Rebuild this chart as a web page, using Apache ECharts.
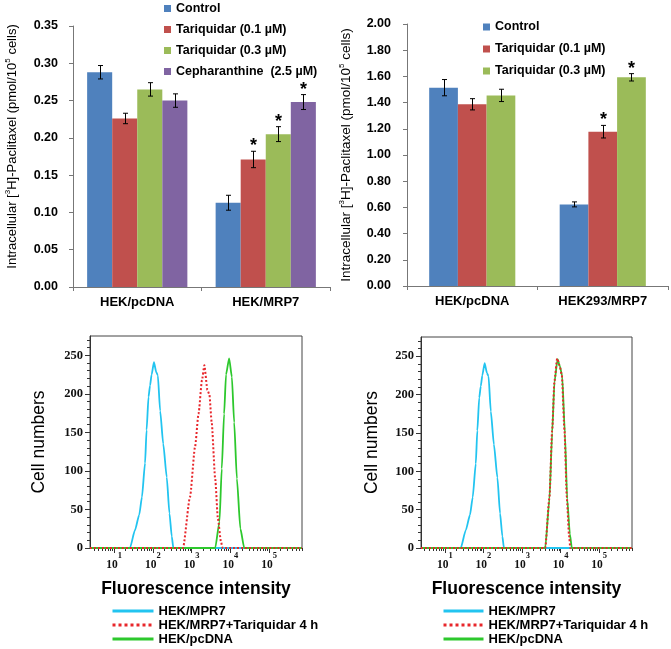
<!DOCTYPE html>
<html><head><meta charset="utf-8">
<script src="https://cdn.jsdelivr.net/npm/echarts@6/dist/echarts.min.js"></script>
<style>html,body{margin:0;padding:0;background:#fff}#c{width:671px;height:649px}</style>
</head><body><div id="c"></div>
<script>
// ---------- Panel A (top-left) ----------
const catsA = ['HEK/pcDNA', 'HEK/MRP7'];
const namesA = ['Control', 'Tariquidar (0.1 µM)', 'Tariquidar (0.3 µM)', 'Cepharanthine  (2.5 µM)'];
const controlA = [0.288, 0.113];
const tar01A = [0.226, 0.171];
const tar03A = [0.265, 0.205];
const cephA = [0.250, 0.248];
const controlErrA = [0.009, 0.010];
const tar01ErrA = [0.007, 0.011];
const tar03ErrA = [0.009, 0.010];
const cephErrA = [0.009, 0.010];
const controlSigA = [0, 0];
const tar01SigA = [0, 1];
const tar03SigA = [0, 1];
const cephSigA = [0, 1];
const yTicksA = [0, 0.35, 0.05];

// ---------- Panel B (top-right) ----------
const catsB = ['HEK/pcDNA', 'HEK293/MRP7'];
const namesB = ['Control', 'Tariquidar (0.1 µM)', 'Tariquidar (0.3 µM)'];
const controlB = [1.514, 0.623];
const tar01B = [1.387, 1.178];
const tar03B = [1.455, 1.593];
const controlErrB = [0.062, 0.019];
const tar01ErrB = [0.043, 0.048];
const tar03ErrB = [0.047, 0.028];
const controlSigB = [0, 0];
const tar01SigB = [0, 1];
const tar03SigB = [0, 1];
const yTicksB = [0, 2.0, 0.2];

// ---------- Histograms (x = log10 fluorescence intensity, y = cell numbers) ----------
const histNames = ['HEK/MPR7', 'HEK/MRP7+Tariquidar 4 h', 'HEK/pcDNA'];
const cyanLogX = [0.38, 1.41, 1.54, 1.65, 1.72, 1.80, 1.84, 1.89, 1.93, 1.97, 2.03, 2.09, 2.13, 2.19, 2.27, 2.36, 2.43, 2.49, 2.53, 5.85];
const cyanCount = [0, 0, 23, 43, 66, 110, 153, 196, 211, 225, 241, 228, 224, 178, 135, 92, 45, 15, 0, 0];
// left panel
const redLogX_L = [0.38, 2.78, 2.96, 3.09, 3.18, 3.27, 3.33, 3.41, 3.46, 3.52, 3.61, 3.68, 3.76, 3.80, 5.85];
const redCount_L = [0, 0, 66, 131, 174, 218, 237, 205, 199, 163, 90, 38, 8, 0, 0];
const greenLogX_L = [0.38, 3.61, 3.72, 3.78, 3.84, 3.89, 3.97, 4.04, 4.10, 4.17, 4.26, 4.36, 5.85];
const greenCount_L = [0, 0, 34, 103, 174, 225, 246, 222, 163, 90, 25, 0, 0];
// right panel
const redLogX_R = [0.38, 3.60, 3.71, 3.78, 3.84, 3.91, 3.97, 4.03, 4.10, 4.16, 4.22, 4.25, 5.85];
const redCount_R = [0, 0, 66, 153, 218, 247, 238, 226, 153, 66, 15, 0, 0];
const greenLogX_R = [0.38, 3.60, 3.71, 3.78, 3.84, 3.92, 3.98, 4.04, 4.11, 4.17, 4.24, 4.29, 5.85];
const greenCount_R = [0, 0, 64, 150, 216, 246, 237, 224, 150, 64, 18, 0, 0];
const xDecades = [1, 2, 3, 4, 5];
const xRange = [0.38, 5.85];
const yHistLabels = [0, 50, 100, 150, 200, 250];
const yHistMax = 275;

// ---------- styling ----------
const SANS = '"Liberation Sans", Arial, sans-serif';
const SERIF = '"Liberation Serif", "Times New Roman", serif';
const barColors = ['#4F81BD', '#C0504D', '#9BBB59', '#8064A2'];
const histColors = ['#22C4F0', '#E8262B', '#2DC82D'];

const gridA = {left: 73, top: 26, width: 257, height: 261};
const gridB = {left: 407, top: 24, width: 261, height: 262};
const gridC = {left: 90, top: 336, width: 212, height: 212};
const gridD = {left: 421, top: 337, width: 211, height: 211};
const gapA = 0.22, gapB = 0.34;

function zip(a, b) { return a.map((v, i) => [v, b[i]]); }

function errRender(n, gapFrac) {
  return function (params, api) {
    const ci = api.value(0), si = api.value(1), v = api.value(2), e = api.value(3), sig = api.value(4);
    const cw = api.size([1, 0])[0];
    const total = cw * (1 - gapFrac);
    const bw = total / n;
    const cx = Math.round(api.coord([ci, v])[0] - total / 2 + (si + 0.5) * bw) + 0.5;
    const yt = api.coord([ci, v + e])[1], yb = api.coord([ci, v - e])[1];
    const st = {stroke: '#000', lineWidth: 1};
    const kids = [
      {type: 'line', shape: {x1: cx, y1: yt, x2: cx, y2: yb}, style: st},
      {type: 'line', shape: {x1: cx - 2.5, y1: yt, x2: cx + 2.5, y2: yt}, style: st},
      {type: 'line', shape: {x1: cx - 2.5, y1: yb, x2: cx + 2.5, y2: yb}, style: st}
    ];
    if (sig) kids.push({type: 'text', style: {text: '*', x: cx, y: yt - 5, align: 'center', verticalAlign: 'middle',
      textAlign: 'center', textVerticalAlign: 'middle', font: 'bold 18px ' + SANS, fill: '#000'}});
    return {type: 'group', children: kids};
  };
}

function errData(valsList, errList, sigList) {
  const out = [];
  valsList.forEach((vals, si) => vals.forEach((v, ci) => out.push([ci, si, v, errList[si][ci], sigList[si][ci]])));
  return out;
}

const series = [];
const valsA = [controlA, tar01A, tar03A, cephA];
valsA.forEach((vals, i) => series.push({
  type: 'bar', name: namesA[i], xAxisIndex: 0, yAxisIndex: 0, data: vals,
  barGap: '0%', barCategoryGap: (gapA * 100) + '%', itemStyle: {color: barColors[i]}, silent: true
}));
series.push({type: 'custom', name: 'errA', xAxisIndex: 0, yAxisIndex: 0, renderItem: errRender(4, gapA),
  encode: {x: 0, y: 2}, z: 5, silent: true,
  data: errData(valsA, [controlErrA, tar01ErrA, tar03ErrA, cephErrA], [controlSigA, tar01SigA, tar03SigA, cephSigA])});

const valsB = [controlB, tar01B, tar03B];
valsB.forEach((vals, i) => series.push({
  type: 'bar', name: namesB[i], xAxisIndex: 1, yAxisIndex: 1, data: vals,
  barGap: '0%', barCategoryGap: (gapB * 100) + '%', itemStyle: {color: barColors[i]}, silent: true
}));
series.push({type: 'custom', name: 'errB', xAxisIndex: 1, yAxisIndex: 1, renderItem: errRender(3, gapB),
  encode: {x: 0, y: 2}, z: 5, silent: true,
  data: errData(valsB, [controlErrB, tar01ErrB, tar03ErrB], [controlSigB, tar01SigB, tar03SigB])});

function histSeries(name, axisIdx, xs, ys, color, type, z) {
  return {type: 'line', name: name, xAxisIndex: axisIdx, yAxisIndex: axisIdx, data: zip(xs, ys),
    symbol: 'none', smooth: 0.2, smoothMonotone: 'x', z: z, silent: true,
    lineStyle: {color: color, width: type === 'dotted' ? 2 : 1.8, type: type}, itemStyle: {color: color}};
}
series.push(histSeries(histNames[0], 2, cyanLogX, cyanCount, histColors[0], 'solid', 2));
series.push(histSeries(histNames[2], 2, greenLogX_L, greenCount_L, histColors[2], 'solid', 3));
series.push(histSeries(histNames[1], 2, redLogX_L, redCount_L, histColors[1], 'dotted', 4));
series.push(histSeries(histNames[0], 3, cyanLogX, cyanCount, histColors[0], 'solid', 2));
series.push(histSeries(histNames[2], 3, greenLogX_R, greenCount_R, histColors[2], 'solid', 3));
series.push(histSeries(histNames[1], 3, redLogX_R, redCount_R, histColors[1], 'dotted', 4));

const minorLogTicks = [];
for (let k = 0; k <= 5; k++) for (let m = 2; m <= 9; m++) {
  const v = Math.log10(m * Math.pow(10, k));
  if (v > xRange[0] && v < xRange[1]) minorLogTicks.push(v);
}
const minorCountTicks = [];
for (let v = 0; v <= 270; v += 10) if (v % 50 !== 0) minorCountTicks.push(v);

const axLine = {show: true, lineStyle: {color: '#777', width: 1}};
const boldLbl = {color: '#000', fontWeight: 'bold', fontFamily: SANS};

function barY(idx, t, margin, fontSize, pad) {
  return {type: 'value', gridIndex: idx, min: t[0], max: t[1], interval: t[2],
    axisLine: axLine, axisTick: {show: true, length: 4, lineStyle: {color: '#777'}}, splitLine: {show: false},
    axisLabel: Object.assign({fontSize: 12.5, margin: margin, formatter: v => v.toFixed(2)}, boldLbl),
    name: '{r|Intracellular [}{s|3}{r|H]-Paclitaxel (pmol/10}{s|5}{r| cells)}',
    nameLocation: 'middle', nameRotate: 90, nameGap: 53, nameMoveOverlap: false,
    nameTextStyle: {padding: pad, rich: {
      r: {fontSize: fontSize, lineHeight: 16, fontFamily: SANS, color: '#000'},
      s: {fontSize: 8, lineHeight: 8, verticalAlign: 'top', fontFamily: SANS, color: '#000'}}}};
}
function barX(idx, cats) {
  return {type: 'category', gridIndex: idx, data: cats, axisLine: axLine,
    axisTick: {show: true, length: 4, lineStyle: {color: '#777'}},
    axisLabel: Object.assign({fontSize: 13, margin: 9}, boldLbl)};
}
function histX(idx) {
  return {type: 'value', gridIndex: idx, min: xRange[0], max: xRange[1],
    axisLine: {show: true, lineStyle: {color: '#333'}}, splitLine: {show: false},
    axisTick: {show: true, length: 5, customValues: xDecades, lineStyle: {color: '#333'}},
    axisLabel: {customValues: xDecades, margin: 3, formatter: v => '{b|10}{s|' + v + '}',
      rich: {b: {fontFamily: SERIF, fontWeight: 'bold', fontSize: 11.5, lineHeight: 28, color: '#111'},
             s: {fontFamily: SERIF, fontWeight: 'bold', fontSize: 8.5, lineHeight: 8, verticalAlign: 'top', color: '#111'}}},
    name: 'Fluorescence intensity', nameLocation: 'middle', nameGap: 31, nameMoveOverlap: false,
    nameTextStyle: {fontFamily: SANS, fontWeight: 'bold', fontSize: 17.5, lineHeight: 20, color: '#000'}};
}
function histY(idx, gap) {
  return {type: 'value', gridIndex: idx, min: 0, max: yHistMax,
    axisLine: {show: true, lineStyle: {color: '#333'}}, splitLine: {show: false},
    axisTick: {show: true, length: 5, customValues: yHistLabels, lineStyle: {color: '#333'}},
    axisLabel: {customValues: yHistLabels, margin: 7, fontFamily: SERIF, fontWeight: 'bold', fontSize: 12.5, color: '#111'},
    name: 'Cell numbers', nameLocation: 'middle', nameRotate: 90, nameGap: gap, nameMoveOverlap: false,
    nameTextStyle: {fontFamily: SANS, fontSize: 17.5, lineHeight: 20, color: '#000'}};
}
function minorX(idx) {
  return {type: 'value', gridIndex: idx, min: xRange[0], max: xRange[1], axisLine: {show: false},
    splitLine: {show: false}, axisLabel: {show: false},
    axisTick: {show: true, length: 3, customValues: minorLogTicks, lineStyle: {color: '#333'}}};
}
function minorY(idx) {
  return {type: 'value', gridIndex: idx, min: 0, max: yHistMax, axisLine: {show: false},
    splitLine: {show: false}, axisLabel: {show: false},
    axisTick: {show: true, length: 3, customValues: minorCountTicks, lineStyle: {color: '#333'}}};
}

const g = (r, extra) => Object.assign({outerBoundsMode: 'none', containLabel: false}, r, extra || {});
const histLegend = (left, w) => ({data: histNames, orient: 'vertical', left: left, top: 604.5, itemWidth: w, itemHeight: 10, itemGap: 1,
  padding: 0, selectedMode: false, lineStyle: {width: 3}, itemStyle: {opacity: 0, borderWidth: 0},
  textStyle: {fontFamily: SANS, fontWeight: 'bold', fontSize: 13, lineHeight: 12, color: '#000'}});

const option = {
  animation: false,
  backgroundColor: '#fff',
  grid: [g(gridA), g(gridB),
    g(gridC, {show: true, borderColor: '#444', borderWidth: 1, backgroundColor: 'transparent'}),
    g(gridD, {show: true, borderColor: '#444', borderWidth: 1, backgroundColor: 'transparent'}),
    g(gridC), g(gridD)],
  xAxis: [barX(0, catsA), barX(1, catsB), histX(2), histX(3), minorX(4), minorX(5)],
  yAxis: [barY(0, yTicksA, 15, 13, [0, 0, 0, 20]), barY(1, yTicksB, 16, 13.5, 0),
    histY(2, 41), histY(3, 39), minorY(4), minorY(5)],
  legend: [
    {data: namesA, orient: 'vertical', left: 164, top: 1.5, icon: 'rect', itemWidth: 7, itemHeight: 7, itemGap: 7,
      padding: 0, selectedMode: false, textStyle: {fontFamily: SANS, fontWeight: 'bold', fontSize: 12.5, lineHeight: 14, color: '#000'}},
    {data: namesB, orient: 'vertical', left: 483, top: 20, icon: 'rect', itemWidth: 7, itemHeight: 7, itemGap: 8,
      padding: 0, selectedMode: false, textStyle: {fontFamily: SANS, fontWeight: 'bold', fontSize: 12.5, lineHeight: 14, color: '#000'}},
    histLegend(111, 41),
    histLegend(442, 40)
  ],
  series: series
};
const chart = echarts.init(document.getElementById('c'), null, {renderer: 'canvas'});
chart.setOption(option);
</script></body></html>
